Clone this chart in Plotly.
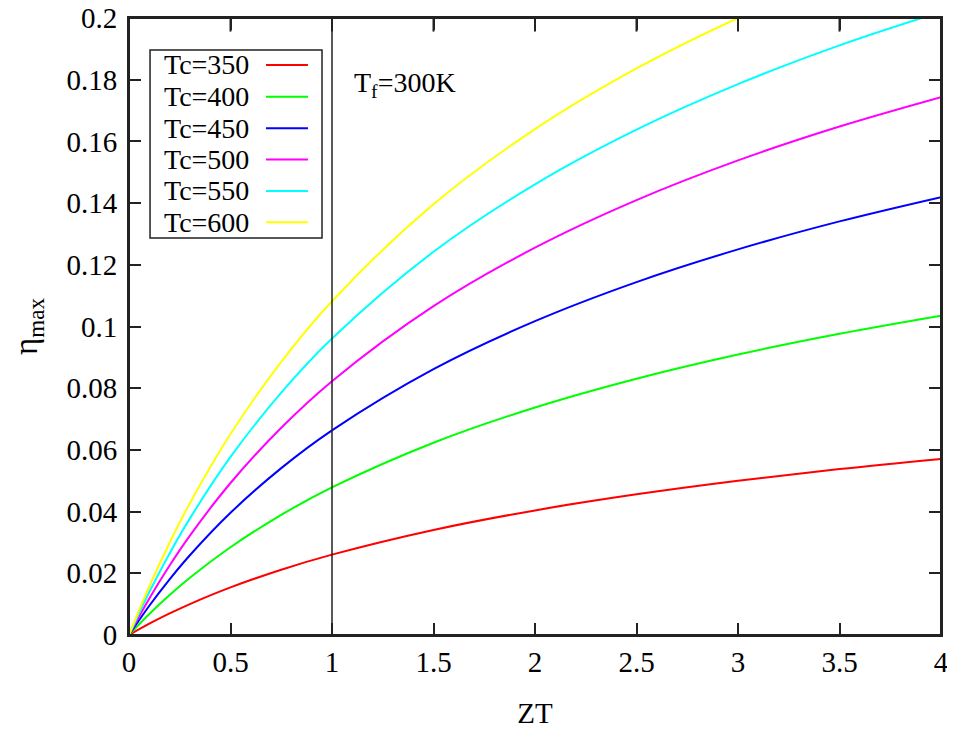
import plotly.graph_objects as go

# Data
zt = [0, 0.1, 0.2, 0.3, 0.5, 0.75, 1.0, 1.5, 2.0, 2.5, 3.0, 3.5, 4.0]
eta_350 = [0, 0.00366, 0.00698, 0.01003, 0.01542, 0.02116, 0.02605, 0.03405, 0.04039, 0.04560, 0.05000, 0.05378, 0.05709]
eta_400 = [0, 0.00678, 0.01293, 0.01854, 0.02845, 0.03894, 0.04785, 0.06232, 0.07373, 0.08307, 0.09091, 0.09763, 0.10349]
eta_450 = [0, 0.00948, 0.01806, 0.02586, 0.03961, 0.05410, 0.06635, 0.08618, 0.10173, 0.11440, 0.12500, 0.13407, 0.14194]
eta_500 = [0, 0.01184, 0.02252, 0.03222, 0.04927, 0.06717, 0.08226, 0.10658, 0.12556, 0.14098, 0.15385, 0.16482, 0.17434]
eta_550 = [0, 0.01392, 0.02644, 0.03780, 0.05771, 0.07855, 0.09608, 0.12422, 0.14610, 0.16382, 0.17857, 0.19113, 0.20199]
eta_600 = [0, 0.01576, 0.02991, 0.04273, 0.06515, 0.08856, 0.10819, 0.13962, 0.16399, 0.18366, 0.20000, 0.21389, 0.22589]

series_names = ["Tc=350", "Tc=400", "Tc=450", "Tc=500", "Tc=550", "Tc=600"]
series_values = [eta_350, eta_400, eta_450, eta_500, eta_550, eta_600]
colors = ["#ff0000", "#00ff00", "#0000ff", "#ff00ff", "#00ffff", "#ffff00"]

x_ticks = [0, 0.5, 1, 1.5, 2, 2.5, 3, 3.5, 4]
x_tick_text = ["0", "0.5", "1", "1.5", "2", "2.5", "3", "3.5", "4"]
y_ticks = [0, 0.02, 0.04, 0.06, 0.08, 0.1, 0.12, 0.14, 0.16, 0.18, 0.2]
y_tick_text = ["0", "0.02", "0.04", "0.06", "0.08", "0.1", "0.12", "0.14", "0.16", "0.18", "0.2"]

FONT = "Liberation Serif"
FS = 29
FS_LEG = 28

fig = go.Figure()
for name, vals, col in zip(series_names, series_values, colors):
    fig.add_trace(go.Scatter(x=zt, y=vals, mode="lines", name=name,
                             line=dict(color=col, width=2, shape="spline"),
                             showlegend=False))

# vertical line at ZT=1
fig.add_shape(type="line", xref="x", yref="y", x0=1, x1=1, y0=0, y1=0.2,
              line=dict(color="#222222", width=1.5))

# plot frame (drawn explicitly so the top edge is always visible)
fig.add_shape(type="rect", xref="paper", yref="paper", x0=0, x1=1, y0=0, y1=1,
              line=dict(color="#222222", width=2), fillcolor="rgba(0,0,0,0)", layer="above")

# inward tick marks along the upper frame edge, at the x tick values
for xv in x_ticks[1:-1]:
    fig.add_shape(type="line", xref="x", yref="paper", x0=xv, x1=xv, y0=1.0, y1=0.978,
                  line=dict(color="#222222", width=2), layer="above")

# manual gnuplot-style legend (text then sample line)
fig.add_shape(type="rect", xref="paper", yref="paper", x0=0.0259, x1=0.2377,
              y0=0.6434, y1=0.9481, line=dict(color="#222222", width=1.5),
              fillcolor="rgba(0,0,0,0)")
row_y = [65, 96.7, 128.3, 159.5, 191, 222.3]
for i, (name, col) in enumerate(zip(series_names, colors)):
    yp = (635 - row_y[i]) / 617
    fig.add_annotation(xref="paper", yref="paper", x=0.1502, y=yp, text=name,
                       showarrow=False, xanchor="right", yanchor="middle",
                       font=dict(family=FONT, size=FS_LEG, color="black"))
    fig.add_shape(type="line", xref="paper", yref="paper", x0=0.1687, x1=0.2204,
                  y0=yp, y1=yp, line=dict(color=col, width=2))

fig.add_annotation(xref="x", yref="y", x=1.098, y=0.1783,
                   text="T<sub>f</sub>=300K", showarrow=False,
                   xanchor="left", yanchor="middle",
                   font=dict(family=FONT, size=FS_LEG, color="black"))

axis_common = dict(showgrid=False, zeroline=False, showline=True, mirror="ticks",
                   linecolor="#222222", linewidth=2, ticks="inside", ticklen=12,
                   tickwidth=1.5, tickcolor="#222222", automargin=False,
                   ticklabeloverflow="allow",
                   tickfont=dict(family=FONT, size=FS, color="black"))

fig.update_xaxes(range=[0, 4], tickvals=x_ticks, ticktext=x_tick_text,
                 ticklabelstandoff=0,
                 title=dict(text="ZT", font=dict(family=FONT, size=FS, color="black"), standoff=26),
                 **axis_common)
fig.update_yaxes(range=[0, 0.2], tickvals=y_ticks, ticktext=y_tick_text,
                 ticklabelstandoff=4,
                 title=dict(text="η<sub>max</sub>", font=dict(family=FONT, size=FS + 4, color="black"), standoff=24),
                 **axis_common)

# page body adds an 8px offset; margins compensate so the plot area sits at x 129-941, y 18-635
fig.update_layout(width=955, height=731, paper_bgcolor="white", plot_bgcolor="white",
                  margin=dict(l=121, r=22, t=10, b=104), showlegend=False)

fig.write_html("out.html")
